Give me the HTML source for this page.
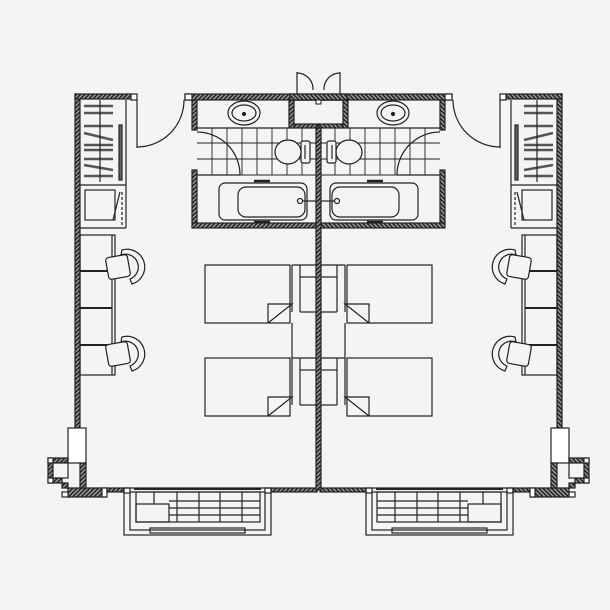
<!DOCTYPE html>
<html><head><meta charset="utf-8"><style>
html,body{margin:0;padding:0;background:#f4f4f4;}
svg{display:block;}
</style></head><body>
<svg width="610" height="610" viewBox="0 0 610 610" xmlns="http://www.w3.org/2000/svg">
<defs>
<pattern id="h" width="3" height="3" patternUnits="userSpaceOnUse" patternTransform="rotate(45)">
<rect width="3" height="3" fill="#999"/><rect width="1.5" height="3" fill="#222"/>
</pattern>
<g id="half" fill="none" stroke="#222" stroke-width="1.2">
  <!-- exterior left wall -->
  <rect x="75" y="94" width="5" height="334" fill="url(#h)"/>
  <rect x="75" y="94" width="56" height="5" fill="url(#h)"/>
  <rect x="131" y="94" width="6" height="6" fill="#fff"/>
  <!-- entry door -->
  <line x1="137" y1="100" x2="137" y2="148"/>
  <path d="M137 147 A47 47 0 0 0 184 100"/>
  <!-- closet -->
  <line x1="80" y1="185" x2="126" y2="185"/>
  <line x1="126" y1="100" x2="126" y2="228"/>
  <rect x="119" y="125" width="3" height="55" fill="#666"/>
  <g stroke-width="2.5" stroke="#555">
    <line x1="84" y1="106" x2="113" y2="106"/><line x1="84" y1="113" x2="113" y2="113"/>
    <line x1="84" y1="126" x2="113" y2="126"/><line x1="84" y1="133" x2="113" y2="140"/>
    <line x1="84" y1="145" x2="113" y2="145"/><line x1="84" y1="150" x2="113" y2="150"/>
    <line x1="84" y1="159" x2="113" y2="159"/><line x1="84" y1="165" x2="113" y2="170"/>
    <line x1="84" y1="176" x2="113" y2="176"/>
  </g>
  <line x1="100" y1="100" x2="100" y2="182"/>
  <rect x="85" y="190" width="30" height="30"/>
  <line x1="120" y1="192" x2="113" y2="220"/>
  <line x1="122" y1="192" x2="122" y2="225" stroke-dasharray="3 2"/>
  <line x1="80" y1="228" x2="126" y2="228"/>
  <!-- desk -->
  <rect x="80" y="235" width="35" height="140"/>
  <line x1="112" y1="235" x2="112" y2="375"/>
  <line x1="80" y1="271" x2="112" y2="271" stroke-width="2"/>
  <line x1="80" y1="308" x2="112" y2="308" stroke-width="2"/>
  <line x1="80" y1="345" x2="112" y2="345" stroke-width="2"/>
  <!-- chairs -->
  <g id="chair">
    <rect x="107" y="256" width="22" height="22" rx="3" transform="rotate(-10 118 267)" fill="#f4f4f4"/>
    <path d="M122 250 A17 17 0 0 1 132 284 L130 279 A12 12 0 0 0 121 255 Z" fill="#f4f4f4"/>
  </g>
  <use href="#chair" transform="translate(0,87)"/>
  <!-- bathroom -->
  <rect x="185" y="94" width="105" height="6" fill="url(#h)"/>
  <rect x="185" y="94" width="7" height="6" fill="#fff"/>
  <rect x="192" y="100" width="5" height="30" fill="url(#h)"/>
  <rect x="192" y="170" width="5" height="53" fill="url(#h)"/>
  <rect x="192" y="223" width="125" height="5" fill="url(#h)"/>
  <line x1="197" y1="128" x2="290" y2="128"/>
  <ellipse cx="244" cy="113" rx="16" ry="12"/>
  <ellipse cx="244" cy="113" rx="12" ry="8"/>
  <circle cx="244" cy="114" r="1.5" fill="#222"/>
  <rect x="289" y="100" width="5" height="28" fill="url(#h)"/>
  <!-- tiles -->
  <g stroke-width="0.9">
    <line x1="197" y1="143" x2="316" y2="143"/><line x1="197" y1="159" x2="316" y2="159"/>
    <line x1="197" y1="175" x2="316" y2="175"/>
    <line x1="212" y1="128" x2="212" y2="175"/><line x1="227" y1="128" x2="227" y2="175"/>
    <line x1="242" y1="128" x2="242" y2="175"/><line x1="257" y1="128" x2="257" y2="175"/>
    <line x1="272" y1="128" x2="272" y2="175"/><line x1="287" y1="128" x2="287" y2="175"/>
    <line x1="302" y1="128" x2="302" y2="175"/>
  </g>
  <line x1="197" y1="175" x2="240" y2="175"/>
  <path d="M240 175 A43 43 0 0 0 197 132"/>
  <!-- toilet -->
  <ellipse cx="288" cy="152" rx="13" ry="12" fill="#f4f4f4"/>
  <rect x="301" y="141" width="9" height="22" rx="2" fill="#f4f4f4"/>
  <line x1="305" y1="145" x2="305" y2="159"/>
  <!-- bathtub -->
  <rect x="219" y="183" width="88" height="37" rx="6"/>
  <rect x="238" y="187" width="67" height="30" rx="8"/>
  <line x1="254" y1="181" x2="270" y2="181" stroke-width="2.5"/>
  <line x1="254" y1="222" x2="270" y2="222" stroke-width="2.5"/>
  <circle cx="300" cy="201" r="2.5"/>
  <line x1="303" y1="201" x2="316" y2="201"/>
  <!-- shaft box -->
  <rect x="290" y="94" width="57" height="6" fill="url(#h)"/>
  <line x1="294" y1="100" x2="343" y2="100"/>
  <rect x="294" y="124" width="24" height="4" fill="url(#h)"/>
  <!-- double door top -->
  <line x1="297" y1="72" x2="297" y2="94"/>
  <path d="M297 73 A16 16 0 0 1 313 90"/>
  <!-- bed -->
  <g id="bed">
    <rect x="205" y="265" width="85" height="58"/>
    <line x1="292" y1="265" x2="292" y2="312"/>
    <line x1="300" y1="265" x2="300" y2="312"/>
    <line x1="300" y1="277" x2="316" y2="277"/>
    <line x1="300" y1="312" x2="316" y2="312"/>
    <line x1="292" y1="265" x2="316" y2="265"/>
    <path d="M268 323 L268 304 L292 304 L268 323"/>
  </g>
  <use href="#bed" transform="translate(0,93)"/>
  <line x1="292" y1="323" x2="292" y2="358"/>
  <!-- bottom -->
  <rect x="68" y="428" width="18" height="35" fill="#fff"/>
  <path d="M48 458 L68 458 L68 463 L53 463 L53 478 L62 478 L62 488 L106 488 L106 497 L68 497 L68 483 L48 483 Z" fill="url(#h)"/>
  <rect x="53" y="463" width="15" height="15" fill="#f4f4f4"/>
  <rect x="80" y="463" width="6" height="25" fill="url(#h)"/>
  <rect x="48" y="458" width="5" height="5" fill="#fff"/>
  <rect x="48" y="478" width="5" height="5" fill="#fff"/>
  <rect x="62" y="492" width="6" height="5" fill="#fff"/>
  <rect x="102" y="488" width="5" height="9" fill="#fff"/>
  <rect x="107" y="488" width="17" height="4" fill="url(#h)"/>
  <rect x="271" y="488" width="46" height="4" fill="url(#h)"/>
  <rect x="124" y="488" width="6" height="5" fill="#fff"/>
  <rect x="265" y="488" width="6" height="5" fill="#fff"/>
  <!-- balcony -->
  <rect x="124" y="488" width="147" height="47"/>
  <rect x="130" y="492" width="135" height="38"/>
  <line x1="134" y1="489" x2="261" y2="489" stroke-width="2"/>
  <rect x="136" y="492" width="124" height="30"/>
  <rect x="136" y="504" width="33" height="18"/>
  <line x1="154" y1="492" x2="154" y2="504"/>
  <line x1="177" y1="492" x2="177" y2="522"/><line x1="199" y1="492" x2="199" y2="522"/>
  <line x1="220" y1="492" x2="220" y2="522"/><line x1="242" y1="492" x2="242" y2="522"/>
  <line x1="169" y1="501" x2="260" y2="501"/><line x1="169" y1="508" x2="260" y2="508"/>
  <line x1="169" y1="515" x2="260" y2="515"/>
  <rect x="150" y="528" width="95" height="5"/>
</g>
</defs>
<use href="#half"/>
<use href="#half" transform="translate(637,0) scale(-1,1)"/>
<rect x="316" y="128" width="5" height="362" fill="url(#h)" stroke="#222" stroke-width="1.2"/>
<rect x="316" y="100" width="5" height="4" fill="#fff" stroke="#222"/>
</svg>
</body></html>
